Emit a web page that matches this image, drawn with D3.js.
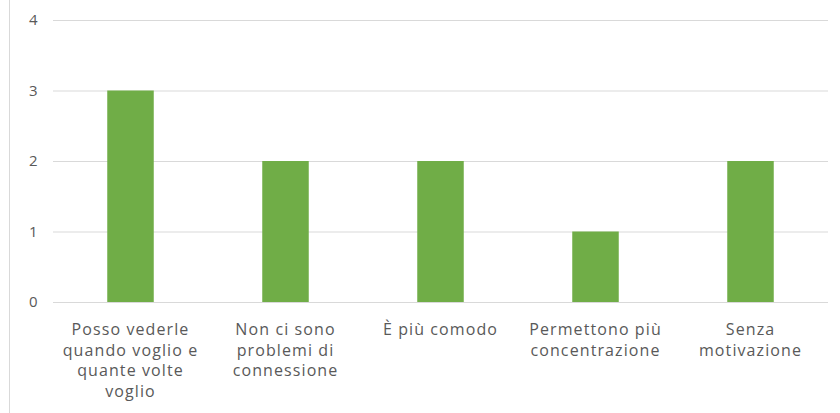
<!DOCTYPE html>
<html><head><meta charset="utf-8">
<script src="https://cdn.jsdelivr.net/npm/d3@7"></script>
<style>body{margin:0;background:#fff}svg{display:block}</style>
</head><body>
<svg id="c" width="840" height="413"></svg>
<script>
const categories = [
  ["Posso vederle", "quando voglio e", "quante volte", "voglio"],
  ["Non ci sono", "problemi di", "connessione"],
  ["È più comodo"],
  ["Permettono più", "concentrazione"],
  ["Senza", "motivazione"]
];
const values = [3, 2, 2, 1, 2];
const yTicks = [0, 1, 2, 3, 4];

const svg = d3.select("#c");
const m = {left: 53, right: 12, top: 20, bottom: 111};
const W = 840, H = 413;
const x = d3.scaleBand().domain(d3.range(categories.length)).range([m.left, W - m.right]).paddingInner(0.7).paddingOuter(0.35);
const y = d3.scaleLinear().domain([0, 4]).range([H - m.bottom, m.top]);

svg.append("line").attr("x1", 9.5).attr("x2", 9.5).attr("y1", 0).attr("y2", H).attr("stroke", "#d9d9d9");

const yAxis = d3.axisLeft(y).tickValues(yTicks).tickSize(-(W - m.right - m.left)).tickPadding(18).tickFormat(d3.format("d"));
const ga = svg.append("g").attr("transform", `translate(${m.left},0)`).call(yAxis);
ga.select(".domain").remove();
ga.selectAll(".tick line").attr("stroke", "#d9d9d9");
ga.selectAll(".tick text").attr("fill", "#595959").attr("font-family", "Open Sans, sans-serif").attr("font-size", 15).attr("text-anchor", "start").attr("x", -24);

svg.append("g").selectAll("rect").data(values).join("rect")
  .attr("x", (d, i) => x(i)).attr("width", x.bandwidth())
  .attr("y", d => y(d)).attr("height", d => y(0) - y(d))
  .attr("fill", "#70ad47");

const lab = svg.append("g").attr("font-family", "Open Sans, sans-serif").attr("font-size", 16).attr("letter-spacing", 1.1).attr("fill", "#595959").attr("text-anchor", "middle");
categories.forEach((lines, i) => {
  const t = lab.append("text").attr("x", x(i) + x.bandwidth() / 2).attr("y", y(0) + 33);
  lines.forEach((l, j) => t.append("tspan").attr("x", x(i) + x.bandwidth() / 2).attr("dy", j === 0 ? 0 : 20.7).text(l));
});
</script>
</body></html>
